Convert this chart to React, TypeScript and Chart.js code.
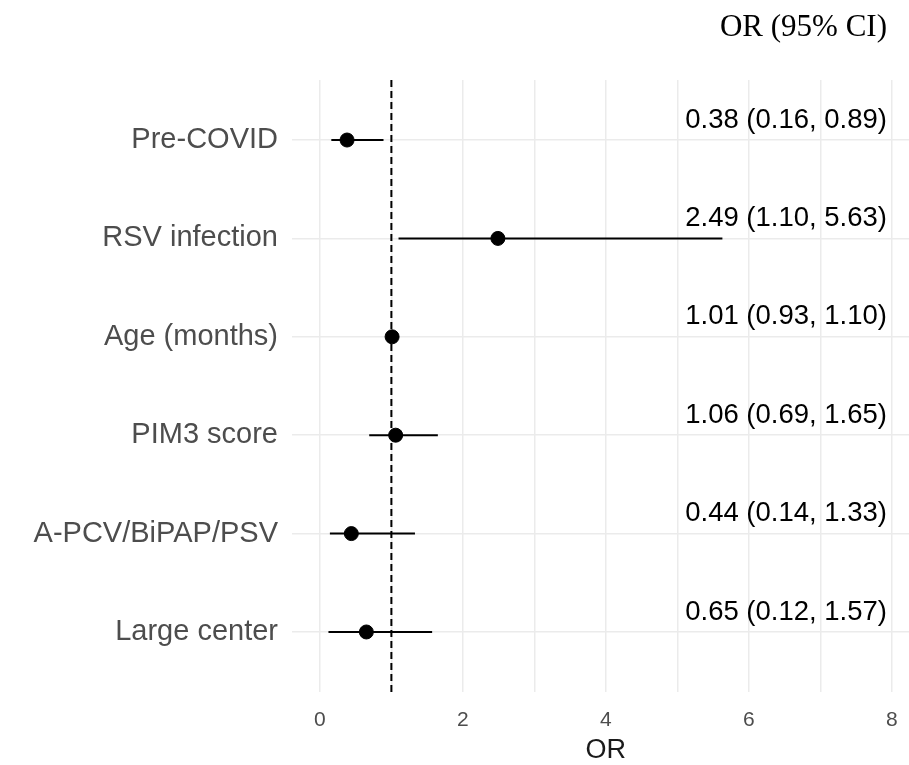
import React, { useEffect, useRef } from "react";
import { Chart, registerables } from "chart.js";

Chart.register(...registerables);

const categories = ["Pre-COVID", "RSV infection", "Age (months)", "PIM3 score", "A-PCV/BiPAP/PSV", "Large center"];
const orValues = [0.38, 2.49, 1.01, 1.06, 0.44, 0.65];
const lowerCI = [0.16, 1.10, 0.93, 0.69, 0.14, 0.12];
const upperCI = [0.89, 5.63, 1.10, 1.65, 1.33, 1.57];
const xTickValues = [0, 1, 2, 3, 4, 5, 6, 7, 8];
const xTickLabels = ["0", "", "2", "", "4", "", "6", "", "8"];
const refValue = 1;
const headerText = "OR (95% CI)";
const xTitle = "OR";

const fmt = (v: number) => v.toFixed(2);

const annotationPlugin = {
  id: "forestText",
  afterDatasetsDraw(chart: any) {
    const { ctx, chartArea, scales } = chart;
    const y = scales.y;
    const x = scales.x;
    const right = chartArea.right - 22;
    ctx.save();
    ctx.fillStyle = "#000000";
    ctx.font = "27.5px 'Liberation Sans', Arial, sans-serif";
    ctx.textAlign = "right";
    ctx.textBaseline = "middle";
    categories.forEach((_, i) => {
      const text = `${fmt(orValues[i])} (${fmt(lowerCI[i])}, ${fmt(upperCI[i])})`;
      ctx.fillText(text, right, y.getPixelForValue(i) - 20);
    });
    ctx.font = "31px 'Liberation Serif', 'Times New Roman', serif";
    ctx.fillText(headerText, right, 28);
    // x axis title centred on the tick range
    const mid =
      (x.getPixelForValue(xTickValues[0]) + x.getPixelForValue(xTickValues[xTickValues.length - 1])) / 2;
    ctx.fillStyle = "#1a1a1a";
    ctx.font = "27px 'Liberation Sans', Arial, sans-serif";
    ctx.textAlign = "center";
    ctx.fillText(xTitle, mid, x.bottom - 14);
    ctx.restore();
  },
};

export default function App() {
  const ref = useRef<HTMLCanvasElement | null>(null);
  useEffect(() => {
    if (!ref.current) return;
    const yMin = -0.61;
    const yMax = categories.length - 1 + 0.61;
    const ciDatasets = categories.map((_, i) => ({
      type: "line" as const,
      data: [
        { x: lowerCI[i], y: i },
        { x: upperCI[i], y: i },
      ],
      borderColor: "#000000",
      borderWidth: 2,
      pointRadius: 0,
      showLine: true,
      order: 2,
    }));
    const chart = new Chart(ref.current, {
      type: "scatter",
      data: {
        datasets: [
          {
            type: "line" as const,
            data: [
              { x: refValue, y: yMin },
              { x: refValue, y: yMax },
            ],
            borderColor: "#000000",
            borderWidth: 2,
            borderDash: [7, 4],
            pointRadius: 0,
            showLine: true,
            order: 3,
          },
          ...ciDatasets,
          {
            type: "scatter" as const,
            data: orValues.map((v, i) => ({ x: v, y: i })),
            backgroundColor: "#000000",
            borderColor: "#000000",
            pointRadius: 7,
            pointHoverRadius: 7,
            order: 1,
          },
        ] as any,
      },
      options: {
        responsive: false,
        animation: false,
        devicePixelRatio: 1,
        layout: { autoPadding: false, padding: { top: 80, right: 0, bottom: 0, left: 0 } },
        plugins: { legend: { display: false }, tooltip: { enabled: false } },
        scales: {
          x: {
            type: "linear",
            min: -0.39,
            max: 8.24,
            afterBuildTicks: (scale: any) => {
              scale.ticks = xTickValues.map((v) => ({ value: v }));
            },
            afterFit: (scale: any) => {
              scale.height = 73;
              scale.paddingLeft = 0;
              scale.paddingRight = 0;
            },
            grid: { color: "#ebebeb", lineWidth: 1.5, drawTicks: false },
            border: { display: false },
            ticks: {
              padding: 16,
              color: "#4d4d4d",
              font: { family: "'Liberation Sans', Arial, sans-serif", size: 21 },
              callback: (v: any) => {
                const idx = xTickValues.indexOf(Number(v));
                return idx >= 0 ? xTickLabels[idx] : "";
              },
              maxRotation: 0,
              autoSkip: false,
            },
            title: { display: false },
          },
          y: {
            type: "linear",
            reverse: true,
            min: yMin,
            max: yMax,
            afterBuildTicks: (scale: any) => {
              scale.ticks = categories.map((_, i) => ({ value: i }));
            },
            afterFit: (scale: any) => {
              scale.width = 292;
              scale.paddingTop = 0;
              scale.paddingBottom = 0;
            },
            grid: { color: "#ebebeb", lineWidth: 1.5, drawTicks: false },
            border: { display: false },
            ticks: {
              padding: 14,
              color: "#4d4d4d",
              font: { family: "'Liberation Sans', Arial, sans-serif", size: 29 },
              callback: (v: any) => categories[Number(v)] ?? "",
              autoSkip: false,
            },
          },
        },
      },
      plugins: [annotationPlugin],
    });
    return () => chart.destroy();
  }, []);
  return (
    <div style={{ position: "fixed", left: 0, top: 0, width: 909, height: 765, background: "#ffffff" }}>
      <canvas ref={ref} width={909} height={765} />
    </div>
  );
}
